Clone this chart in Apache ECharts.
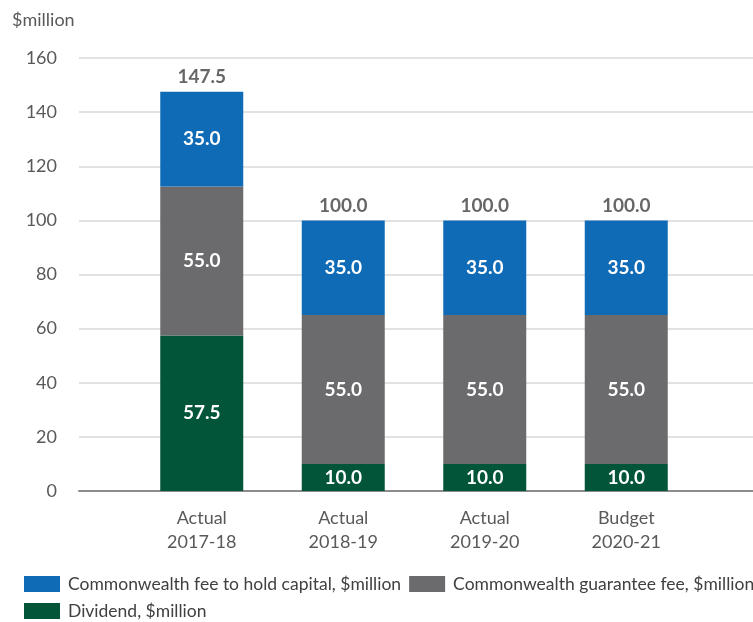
<!DOCTYPE html>
<html>
<head>
<meta charset="utf-8">
<script src="https://cdn.jsdelivr.net/npm/echarts@6/dist/echarts.min.js"></script>
<style>
  html, body { margin: 0; padding: 0; background: #fff; }
  #chart { width: 753px; height: 622px; }
</style>
</head>
<body>
<div id="chart"></div>
<script>
// Categories and stacked component values ($million)
const categories = ['Actual\n2017-18', 'Actual\n2018-19', 'Actual\n2019-20', 'Budget\n2020-21'];
const dividend = [57.5, 10.0, 10.0, 10.0];
const guaranteeFee = [55.0, 55.0, 55.0, 55.0];
const capitalFee = [35.0, 35.0, 35.0, 35.0];
const yTicks = { min: 0, max: 160, interval: 20 };

const totals = categories.map((_, i) => dividend[i] + guaranteeFee[i] + capitalFee[i]);

const NAMES = {
  capital: 'Commonwealth fee to hold capital, $million',
  guarantee: 'Commonwealth guarantee fee, $million',
  dividend: 'Dividend, $million'
};

const FONT = 'Lato, "Open Sans", sans-serif';
const COLORS = { capital: '#0F6BB5', guarantee: '#6B6B6D', dividend: '#03553A' };

const innerLabel = {
  show: true,
  position: 'inside',
  color: '#ffffff',
  fontFamily: FONT,
  fontWeight: 'bold',
  fontSize: 19,
  formatter: p => p.value.toFixed(1)
};

const legendBase = {
  left: 24, width: 740, padding: 0,
  itemWidth: 36, itemHeight: 16, itemGap: 8,
  icon: 'rect',
  textStyle: { color: '#404040', fontFamily: FONT, fontSize: 17.5, padding: [0, 0, 0, 3] }
};

const chart = echarts.init(document.getElementById('chart'), null, { renderer: 'canvas' });

chart.setOption({
  animation: false,
  textStyle: { fontFamily: FONT },
  title: {
    text: '$million',
    left: 7, top: 6,
    textStyle: { fontFamily: FONT, fontSize: 18, fontWeight: 'normal', color: '#595959' }
  },
  grid: [
    // full-width grid carrying the value axis, gridlines and baseline
    { left: 79, right: 0, top: 58, bottom: 131, containLabel: false },
    // bar grid
    { left: 131, width: 566, top: 58, bottom: 131, containLabel: false }
  ],
  xAxis: [
    {
      gridIndex: 0, type: 'category', data: [''],
      axisLine: { show: true, lineStyle: { color: '#8C8C8C', width: 2 } },
      axisTick: { show: false }, axisLabel: { show: false }
    },
    {
      gridIndex: 1, type: 'category', data: categories,
      axisLine: { show: false }, axisTick: { show: false },
      axisLabel: {
        color: '#595959', fontFamily: FONT, fontSize: 18, lineHeight: 24, margin: 15
      }
    }
  ],
  yAxis: [
    {
      gridIndex: 0, type: 'value', min: yTicks.min, max: yTicks.max, interval: yTicks.interval,
      axisLine: { show: false }, axisTick: { show: false },
      axisLabel: { color: '#595959', fontFamily: FONT, fontSize: 18, margin: 22 },
      splitLine: { lineStyle: { color: '#D9D9D9', width: 1.5 } }
    },
    {
      gridIndex: 1, type: 'value', min: yTicks.min, max: yTicks.max, interval: yTicks.interval,
      show: false, splitLine: { show: false }
    }
  ],
  legend: [
    Object.assign({}, legendBase, { top: 575, data: [NAMES.capital, NAMES.guarantee] }),
    Object.assign({}, legendBase, { top: 602, data: [NAMES.dividend] })
  ],
  series: [
    {
      name: NAMES.dividend, type: 'bar', stack: 'total',
      xAxisIndex: 1, yAxisIndex: 1, barWidth: 83,
      itemStyle: { color: COLORS.dividend },
      label: innerLabel, data: dividend
    },
    {
      name: NAMES.guarantee, type: 'bar', stack: 'total',
      xAxisIndex: 1, yAxisIndex: 1, barWidth: 83,
      itemStyle: { color: COLORS.guarantee },
      label: innerLabel, data: guaranteeFee
    },
    {
      name: NAMES.capital, type: 'bar', stack: 'total',
      xAxisIndex: 1, yAxisIndex: 1, barWidth: 83,
      itemStyle: { color: COLORS.capital },
      label: innerLabel, data: capitalFee
    },
    {
      name: 'Total', type: 'scatter',
      xAxisIndex: 1, yAxisIndex: 1,
      symbolSize: 0, silent: true,
      label: {
        show: true, position: 'top', distance: 5,
        color: '#404040', fontFamily: FONT, fontWeight: 'bold', fontSize: 19,
        formatter: p => p.value.toFixed(1)
      },
      data: totals
    }
  ]
});
</script>
</body>
</html>
